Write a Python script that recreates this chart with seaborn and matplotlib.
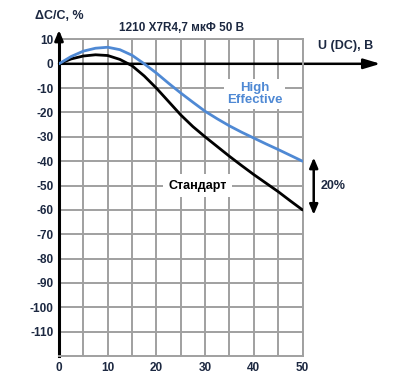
import numpy as np
import pandas as pd
import matplotlib
matplotlib.use("Agg")
import matplotlib.pyplot as plt
import seaborn as sns

# Data
voltage = [0, 2.5, 5, 7.5, 10, 12.5, 15, 17.5, 20, 22.5, 25, 27.5, 30, 32.5, 35, 37.5, 40, 42.5, 45, 47.5, 50]
standard = [0, 2.0, 3.2, 3.7, 3.4, 1.8, -0.8, -5.0, -10.0, -15.5, -21.0, -25.8, -30.0, -34.0, -38.0,
            -41.8, -45.5, -49.0, -52.5, -56.3, -60.0]
high_eff = [0, 3.0, 5.2, 6.4, 6.8, 5.8, 3.5, 0.0, -3.8, -8.0, -12.0, -15.8, -19.5, -22.6, -25.5,
            -28.1, -30.5, -32.9, -35.2, -37.6, -40.0]

x_ticks = [0, 10, 20, 30, 40, 50]
y_ticks = [10, 0, -10, -20, -30, -40, -50, -60, -70, -80, -90, -100, -110]

navy = "#1c2841"
blue = "#4f89d4"

sns.set_style("white")
plt.rcParams['font.family'] = ['Liberation Sans', 'DejaVu Sans']
plt.rcParams['font.weight'] = 'bold'

df = pd.DataFrame({
    'U': voltage * 2,
    'dC': standard + high_eff,
    'type': ['Стандарт'] * len(voltage) + ['High Effective'] * len(voltage),
})

fig = plt.figure(figsize=(4, 3.83), dpi=100)
ax = fig.add_axes([0.1475, 0.0705, 0.6088, 0.8265])

# grid
for xv in np.arange(5, 51, 5):
    ax.axvline(xv, color='#a0a0a0', lw=1.4, zorder=0)
for yv in np.arange(-110, 11, 10):
    ax.axhline(yv, color='#a0a0a0', lw=1.4, zorder=0)

sns.lineplot(data=df, x='U', y='dC', hue='type',
             palette={'Стандарт': 'black', 'High Effective': blue},
             lw=2.0, legend=False, ax=ax, zorder=3)

ax.set_xlim(0, 50)
ax.set_ylim(-120, 10)
ax.set_xticks(x_ticks)
ax.set_yticks(y_ticks)
ax.set_xticklabels([str(v) for v in x_ticks], fontsize=8.5, color=navy, fontweight='bold')
ax.set_yticklabels([str(v) for v in y_ticks], fontsize=8.5, color=navy, fontweight='bold')
ax.tick_params(length=0, pad=4)
ax.set_xlabel('')
ax.set_ylabel('')

for s in ['top', 'right', 'bottom']:
    ax.spines[s].set_color('#a0a0a0')
    ax.spines[s].set_linewidth(1.4)
ax.spines['left'].set_color('black')
ax.spines['left'].set_linewidth(2.2)

# axis arrows
ax.annotate('', xy=(0, 15), xytext=(0, 9), annotation_clip=False,
            arrowprops=dict(arrowstyle='-|>,head_width=0.25,head_length=0.6', color='black', lw=2))
ax.annotate('', xy=(66, 0), xytext=(0, 0), annotation_clip=False,
            arrowprops=dict(arrowstyle='-|>,head_width=0.3,head_length=1.0', color='black', lw=1.8,
                            shrinkA=0, shrinkB=0), zorder=2)

# 20% double arrow
ax.annotate('', xy=(52.3, -38.5), xytext=(52.3, -62), annotation_clip=False,
            arrowprops=dict(arrowstyle='<|-|>,head_width=0.25,head_length=0.6', color='black', lw=1.8,
                            shrinkA=0, shrinkB=0))
ax.text(56.2, -50, '20%', fontsize=9, color=navy, fontweight='bold', ha='center', va='center', clip_on=False)

ax.text(40.2, -12.5, 'High\nEffective', fontsize=9.5, color=blue, fontweight='bold',
        ha='center', va='center', linespacing=1.0,
        bbox=dict(facecolor='white', edgecolor='none', pad=2), zorder=4)
ax.text(28.4, -50, 'Стандарт', fontsize=9, color='black', fontweight='bold',
        ha='center', va='center',
        bbox=dict(facecolor='white', edgecolor='none', pad=4), zorder=4)

fig.text(0.148, 0.958, 'ΔC/C, %', fontsize=9, color=navy, fontweight='bold', ha='center', va='center')
fig.text(0.455, 0.927, '1210 X7R4,7 мкФ 50 В', fontsize=8.5, color=navy, fontweight='bold', ha='center', va='center')
fig.text(0.865, 0.88, 'U (DC), В', fontsize=9, color=navy, fontweight='bold', ha='center', va='center')

fig.savefig('out.png', dpi=100, facecolor='white')
